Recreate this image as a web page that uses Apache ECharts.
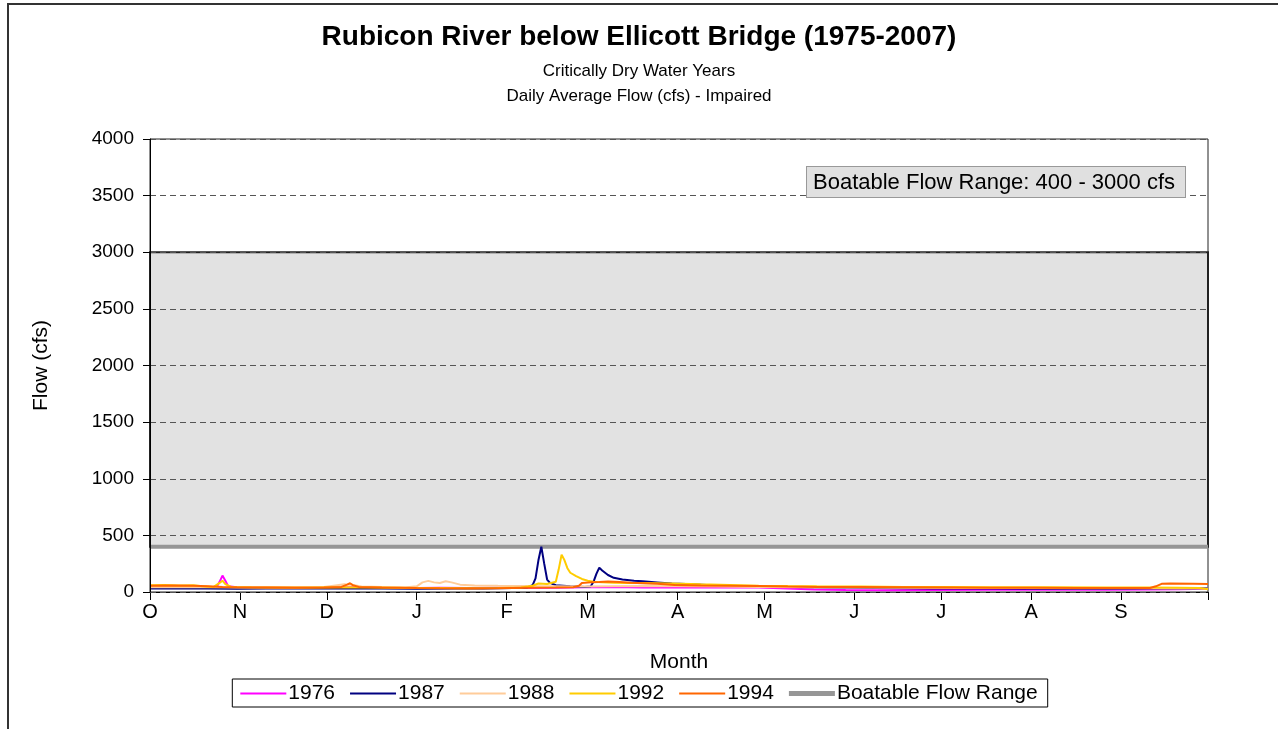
<!DOCTYPE html>
<html>
<head>
<meta charset="utf-8">
<title>Rubicon River below Ellicott Bridge</title>
<script src="https://cdn.jsdelivr.net/npm/echarts@6/dist/echarts.min.js"></script>
<style>
  html, body { margin: 0; padding: 0; background: #fff; }
  #chart { width: 1278px; height: 729px; }
</style>
</head>
<body>
<div id="chart"></div>
<script>
// month starts in water-year days (Oct 1 = day 0)
const monthStarts = [0, 31, 61, 92, 123, 151, 182, 212, 243, 273, 304, 335, 365];
const monthLabels = ["O", "N", "D", "J", "F", "M", "A", "M", "J", "J", "A", "S"];

// boatable range (cfs)
const boatLow = 400;
const boatHigh = 3000;

// [day, cfs]
const flow1976 = [[0,38],[5,36],[10,40],[15,42],[20,40],[23,45],[24,90],[25,145],[26,100],[27,50],[30,42],[40,40],[50,38],[60,40],[70,42],[80,38],[92,36],[100,38],[110,35],[120,37],[130,36],[140,38],[150,42],[160,44],[170,40],[182,40],[195,42],[210,40],[220,30],[229,22],[240,18],[255,16],[270,18],[290,20],[310,22],[330,20],[345,22],[355,25],[365,28]];
const flow1987 = [[0,30],[10,32],[20,30],[30,28],[40,30],[60,32],[80,30],[92,28],[105,30],[115,32],[125,35],[130,40],[132,60],[133,120],[134,280],[135,400],[136,250],[137,110],[138,80],[140,60],[145,50],[150,45],[152,48],[153,90],[154,160],[155,215],[156,190],[158,150],[160,125],[163,110],[167,100],[170,95],[175,85],[180,75],[185,70],[192,62],[200,55],[210,50],[220,45],[235,40],[250,35],[270,32],[290,30],[310,28],[330,28],[350,30],[360,32],[365,35]];
const flow1988 = [[0,42],[10,45],[20,43],[30,40],[40,42],[50,40],[60,45],[64,58],[67,68],[70,62],[73,48],[80,45],[88,40],[92,50],[94,85],[96,98],[98,85],[100,80],[102,95],[104,85],[107,65],[112,58],[120,55],[130,52],[140,50],[150,48],[160,50],[170,52],[182,50],[195,48],[210,45],[225,42],[240,40],[260,38],[280,36],[300,35],[320,34],[340,33],[355,32],[365,30]];
const flow1992 = [[0,60],[5,62],[10,58],[15,60],[18,50],[22,45],[24,80],[25,100],[26,70],[28,45],[35,42],[45,40],[55,40],[65,42],[75,40],[85,38],[92,35],[100,35],[110,33],[120,35],[128,40],[132,55],[134,75],[137,70],[140,90],[141,200],[142,330],[143,280],[144,210],[145,170],[147,140],[149,115],[151,100],[153,90],[156,85],[160,82],[165,80],[170,80],[180,75],[190,68],[200,62],[210,56],[220,52],[230,50],[245,48],[260,45],[275,45],[290,43],[310,42],[330,40],[345,40],[355,38],[362,36],[365,25]];
const flow1994 = [[0,55],[8,58],[15,55],[20,50],[25,45],[30,42],[40,40],[50,38],[60,40],[66,45],[68,65],[69,77],[70,60],[72,45],[80,40],[92,35],[100,33],[110,32],[120,34],[130,38],[140,40],[146,42],[148,55],[149,80],[152,85],[155,88],[158,92],[162,88],[166,82],[170,78],[175,72],[181,62],[190,58],[200,55],[210,52],[220,48],[230,45],[245,45],[260,42],[275,40],[290,38],[305,37],[320,36],[335,35],[345,36],[347,50],[349,72],[352,75],[360,72],[365,70]];

const font = "Liberation Sans, Arial, sans-serif";
const thinIcon = "path://M0,0h46v2h-46z";
const thickIcon = "path://M0,0h46v5h-46z";
const myChart = echarts.init(document.getElementById("chart"));

const yearLine = function (name, data, color) {
  return {
    name: name,
    type: "line",
    data: data,
    symbol: "none",
    z: 3,
    color: color,
    lineStyle: { color: color, width: 2 },
  };
};

const option = {
  animation: false,
  backgroundColor: "#fff",
  textStyle: { fontFamily: font },
  graphic: [
    {
      // outer chart frame
      type: "rect",
      shape: { x: 8, y: 4, width: 1300, height: 800 },
      style: { fill: "none", stroke: "#333", lineWidth: 2 },
      silent: true,
    },
    {
      type: "text",
      left: 806,
      top: 166,
      z: 10,
      style: {
        text: "Boatable Flow Range: " + boatLow + " - " + boatHigh + " cfs",
        font: "22px " + font,
        fill: "#000",
        lineHeight: 24,
        backgroundColor: "#e0e0e0",
        borderColor: "#999",
        borderWidth: 1,
        padding: [4, 10, 2, 6],
      },
    },
  ],
  title: {
    text: "Rubicon River below Ellicott Bridge (1975-2007)",
    subtext: "Critically Dry Water Years\nDaily Average Flow (cfs) - Impaired",
    left: "center",
    top: 17,
    itemGap: 7,
    textStyle: { fontFamily: font, fontSize: 28, fontWeight: "bold", color: "#000", lineHeight: 30 },
    subtextStyle: { fontFamily: font, fontSize: 17, color: "#000", lineHeight: 25 },
  },
  legend: {
    data: [
      { name: "1976", icon: thinIcon },
      { name: "1987", icon: thinIcon },
      { name: "1988", icon: thinIcon },
      { name: "1992", icon: thinIcon },
      { name: "1994", icon: thinIcon },
      { name: "Boatable Flow Range", icon: thickIcon },
    ],
    left: "center",
    top: 679,
    borderColor: "#000",
    borderWidth: 1,
    borderRadius: 0,
    padding: [4, 10, 3, 8],
    itemGap: 15,
    itemWidth: 46,
    itemHeight: 14,
    textStyle: { fontFamily: font, fontSize: 21, color: "#000", padding: [0, 0, 0, -3] },
  },
  grid: {
    left: 150,
    right: 70,
    top: 139,
    bottom: 137,
    show: true,
    borderColor: "#222",
    borderWidth: 1,
    backgroundColor: "transparent",
  },
  xAxis: {
    type: "value",
    min: 0,
    max: 365,
    name: "Month",
    nameLocation: "middle",
    nameGap: 60,
    nameTextStyle: { fontFamily: font, fontSize: 21, color: "#000" },
    axisLine: { show: true, lineStyle: { color: "#000", width: 1 } },
    axisTick: { show: true, length: 8, customValues: monthStarts, lineStyle: { color: "#000" } },
    axisLabel: {
      customValues: monthStarts.slice(0, 12),
      formatter: function (v) { return monthLabels[monthStarts.indexOf(v)]; },
      fontFamily: font,
      fontSize: 20,
      color: "#000",
      margin: 10,
    },
    splitLine: { show: false },
  },
  yAxis: {
    type: "value",
    min: 0,
    max: 4000,
    interval: 500,
    z: 4,
    name: "Flow (cfs)",
    nameLocation: "middle",
    nameGap: 98,
    nameTextStyle: { fontFamily: font, fontSize: 21, color: "#000" },
    axisLine: { show: true, lineStyle: { color: "#000", width: 1 } },
    axisTick: { show: true, length: 7, lineStyle: { color: "#000" } },
    axisLabel: {
      formatter: function (v) { return String(v); },
      fontFamily: font,
      fontSize: 19,
      color: "#000",
      margin: 16,
    },
    splitLine: { show: true, lineStyle: { color: "#555", type: [6, 4], width: 1 } },
  },
  series: [
    {
      name: "Boatable Flow Range",
      type: "line",
      data: [[0, boatLow], [365, boatLow]],
      symbol: "none",
      z: 1,
      color: "#969696",
      lineStyle: { color: "#969696", width: 4 },
      markArea: {
        silent: true,
        itemStyle: { color: "#e2e2e2", borderColor: "#222", borderWidth: 2 },
        data: [[{ xAxis: 0, yAxis: boatLow }, { xAxis: 365, yAxis: boatHigh }]],
      },
    },
    yearLine("1976", flow1976, "#ff00ff"),
    yearLine("1987", flow1987, "#000080"),
    yearLine("1988", flow1988, "#ffcc99"),
    yearLine("1992", flow1992, "#ffcc00"),
    yearLine("1994", flow1994, "#ff6600"),
  ],
};

option && myChart.setOption(option);
</script>
</body>
</html>
